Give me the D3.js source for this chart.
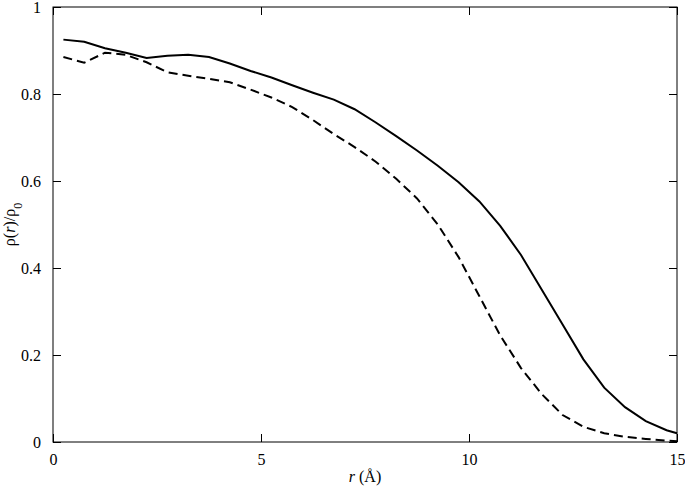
<!DOCTYPE html>
<html>
<head>
<meta charset="utf-8">
<script src="https://cdn.jsdelivr.net/npm/d3@7"></script>
<style>
  body { margin: 0; background: #fff; }
  svg text { font-family: "Liberation Serif", "Times New Roman", serif !important; }
</style>
</head>
<body>
<div id="chart"></div>
<script>
const rValues = [0.25, 0.75, 1.25, 1.75, 2.25, 2.75, 3.25, 3.75, 4.25, 4.75, 5.25, 5.75, 6.25, 6.75, 7.25, 7.75,
  8.25, 8.75, 9.25, 9.75, 10.25, 10.75, 11.25, 11.75, 12.25, 12.75, 13.25, 13.75, 14.25, 14.75, 15];
const solidValues = [0.925, 0.92, 0.905, 0.895, 0.883, 0.888, 0.89, 0.885, 0.87, 0.853, 0.838, 0.82, 0.803, 0.787,
  0.765, 0.735, 0.703, 0.67, 0.635, 0.597, 0.553, 0.497, 0.43, 0.35, 0.27, 0.19, 0.125, 0.08, 0.048, 0.027, 0.02];
const dashedValues = [0.885, 0.872, 0.895, 0.89, 0.873, 0.85, 0.842, 0.835, 0.827, 0.81, 0.792, 0.77, 0.74, 0.708,
  0.678, 0.645, 0.605, 0.56, 0.5, 0.425, 0.335, 0.245, 0.17, 0.11, 0.062, 0.035, 0.02, 0.012, 0.007, 0.003, 0.002];
const xTicks = [0, 5, 10, 15];
const yTicks = [0, 0.2, 0.4, 0.6, 0.8, 1];

const margin = {top: 7, right: 8, bottom: 44, left: 53},
      width = 685 - margin.left - margin.right,
      height = 486 - margin.top - margin.bottom;

const svg = d3.select("#chart").append("svg")
  .attr("width", 685).attr("height", 486)
  .attr("font-family", "Liberation Serif, serif")
  .append("g")
  .attr("transform", `translate(${margin.left},${margin.top})`);

const x = d3.scaleLinear().domain([0, 15]).range([0, width]);
const y = d3.scaleLinear().domain([0, 1]).range([height, 0]);

const fmtY = d => d === 0 ? "0" : d === 1 ? "1" : d3.format(".1f")(d);

function styleAxis(g) {
  g.attr("font-family", "Liberation Serif, serif");
  g.select(".domain").remove();
  g.selectAll("line").attr("stroke", "#000");
  g.selectAll("text").style("font-size", "16px").attr("fill", "#000");
}

svg.append("g").attr("transform", `translate(0,${height})`)
  .call(d3.axisBottom(x).tickValues(xTicks).tickSize(-8).tickPadding(12).tickFormat(d3.format("d")))
  .call(styleAxis);
svg.append("g")
  .call(d3.axisTop(x).tickValues(xTicks).tickSize(-8).tickFormat(""))
  .call(styleAxis);
svg.append("g")
  .call(d3.axisLeft(y).tickValues(yTicks).tickSize(-8).tickPadding(12).tickFormat(fmtY))
  .call(styleAxis);
svg.append("g").attr("transform", `translate(${width},0)`)
  .call(d3.axisRight(y).tickValues(yTicks).tickSize(-8).tickFormat(""))
  .call(styleAxis);

svg.append("rect")
  .attr("width", width).attr("height", height)
  .attr("fill", "none").attr("stroke", "#000").attr("stroke-width", 1);

const line = d3.line().x(d => x(d[0])).y(d => y(d[1]));

svg.append("path")
  .datum(rValues.map((r, i) => [r, solidValues[i]]))
  .attr("d", line).attr("fill", "none").attr("stroke", "#000").attr("stroke-width", 2);

svg.append("path")
  .datum(rValues.map((r, i) => [r, dashedValues[i]]))
  .attr("d", line).attr("fill", "none").attr("stroke", "#000").attr("stroke-width", 2)
  .attr("stroke-dasharray", "9,5");

const xl = svg.append("text")
  .attr("x", width / 2).attr("y", height + 40)
  .attr("text-anchor", "middle").style("font-size", "16px");
xl.append("tspan").style("font-style", "italic").text("r");
xl.append("tspan").text(" (Å)");

const yl = svg.append("text")
  .attr("transform", `translate(-38,${height / 2}) rotate(-90)`)
  .attr("text-anchor", "middle").style("font-size", "16px");
yl.append("tspan").text("ρ(");
yl.append("tspan").style("font-style", "italic").text("r");
yl.append("tspan").text(")/ρ");
yl.append("tspan").attr("baseline-shift", "sub").style("font-size", "12px").text("0");
</script>
</body>
</html>
